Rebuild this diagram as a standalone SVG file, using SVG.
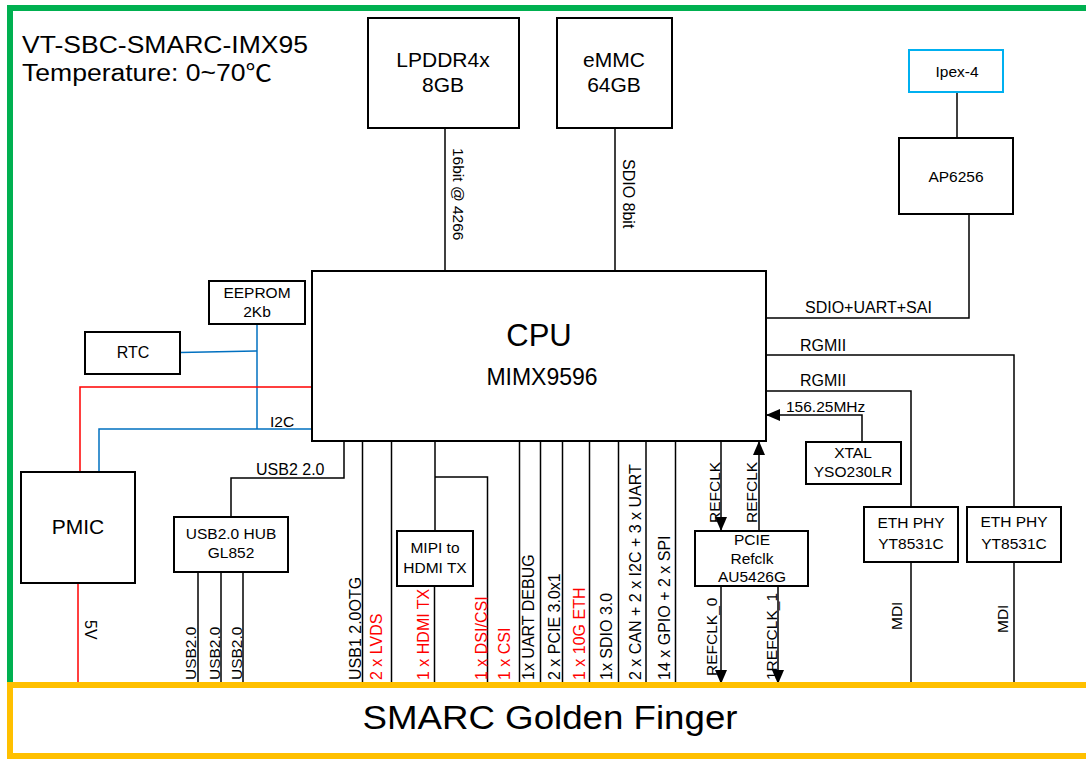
<svg xmlns="http://www.w3.org/2000/svg" width="1086" height="762" viewBox="0 0 1086 762">
<defs>
<style>
.box{fill:#fff;stroke:#000;stroke-width:2}
.t{font-family:"Liberation Sans",Arial,"Noto Sans CJK SC",sans-serif;fill:#000;text-anchor:middle;font-size:15.5px}
.big{font-size:21px}
.w{stroke:#000;stroke-width:1.5;fill:none}
.b{stroke:#0070C0;stroke-width:1.5;fill:none}
.r{stroke:#FF0000;stroke-width:1.5;fill:none}
.l{font-family:"Liberation Sans",Arial,sans-serif;font-size:16px;fill:#000}
.red{fill:#FF0000}
</style>
<marker id="ah" viewBox="0 0 14 12" markerWidth="14" markerHeight="12" refX="14" refY="6" orient="auto" markerUnits="userSpaceOnUse"><path d="M0,0 L14,6 L0,12 z" fill="#000"/></marker>
</defs>
<rect x="0" y="0" width="1086" height="762" fill="#fff"/>
<g id="frame">
<rect x="10" y="8" width="1090" height="700" fill="none" stroke="#00B050" stroke-width="6"/>
</g>
<g id="title">
<text class="l" x="22" y="53" style="font-size:23px" textLength="286" lengthAdjust="spacingAndGlyphs">VT-SBC-SMARC-IMX95</text>
<text x="22" y="81" style="font-size:23px;font-family:'Liberation Sans',Arial,'Noto Sans CJK SC',sans-serif" textLength="250" lengthAdjust="spacingAndGlyphs">Temperature: 0~70℃</text>
</g>
<g id="connectors">
<path class="w" d="M445,128 V271"/>
<path class="w" d="M615,128 V271"/>
<path class="w" d="M957,92 V138"/>
<path class="w" d="M969,214 V318 H766"/>
<path class="w" d="M766,355 H1014 V507"/>
<path class="w" d="M766,391 H911 V507"/>
<path class="w" d="M862,442 V415 H766" marker-end="url(#ah)"/>
<path class="w" d="M721,441 V531" marker-end="url(#ah)"/>
<path class="w" d="M759,531 V441" marker-end="url(#ah)"/>
<path class="w" d="M721,586 V684" marker-end="url(#ah)"/>
<path class="w" d="M778,586 V684" marker-end="url(#ah)"/>
<path class="w" d="M911,562 V684"/>
<path class="w" d="M1014,562 V684"/>
<path class="w" d="M344,441 V478 H231 V517"/>
<path class="w" d="M198,572 V684"/>
<path class="w" d="M221,572 V684"/>
<path class="w" d="M243,572 V684"/>
<path class="w" d="M362.5,441 V684"/>
<path class="w" d="M391.5,441 V684"/>
<path class="w" d="M435,441 V531"/>
<path class="w" d="M435,477 H487.5 V684"/>
<path class="w" d="M434.5,586 V684"/>
<path class="w" d="M519.5,441 V684"/>
<path class="w" d="M540.5,441 V684"/>
<path class="w" d="M562.5,441 V684"/>
<path class="w" d="M589.5,441 V684"/>
<path class="w" d="M618.5,441 V684"/>
<path class="w" d="M646,441 V684"/>
<path class="w" d="M675.5,441 V684"/>
<path class="b" d="M257,324 V429"/>
<path class="b" d="M180,352.5 L257,351"/>
<path class="b" d="M312,429 H99 V472"/>
<path class="r" d="M312,387 H80 V472"/>
<path class="r" d="M78,583 V684"/>
<text class="l" transform="translate(453,148) rotate(90)" style="font-size:15.5px">16bit @ 4266</text>
<text class="l" transform="translate(623,159) rotate(90)">SDIO 8bit</text>
<text class="l" transform="translate(85,620) rotate(90)">5V</text>
<text class="l" x="805" y="313">SDIO+UART+SAI</text>
<text class="l" x="800" y="351">RGMII</text>
<text class="l" x="800" y="386">RGMII</text>
<text class="l" x="786" y="412" style="font-size:15.5px">156.25MHz</text>
<text class="l" x="256" y="475">USB2 2.0</text>
<text class="l" x="270" y="427" style="font-size:15.5px">I2C</text>
<text class="l" transform="translate(720,523) rotate(-90)" style="font-size:15.5px">REFCLK</text>
<text class="l" transform="translate(757,523) rotate(-90)" style="font-size:15.5px">REFCLK</text>
<text class="l" transform="translate(717,676) rotate(-90)" style="font-size:15.5px">REFCLK_0</text>
<text class="l" transform="translate(777,680) rotate(-90)" style="font-size:15.5px">1REFCLK_1</text>
<text class="l" transform="translate(902,630) rotate(-90)" style="font-size:15.5px">MDI</text>
<text class="l" transform="translate(1008,633) rotate(-90)" style="font-size:15.5px">MDI</text>
<text class="l" transform="translate(196,680) rotate(-90)" style="font-size:15.5px">USB2.0</text>
<text class="l" transform="translate(220,680) rotate(-90)" style="font-size:15.5px">USB2.0</text>
<text class="l" transform="translate(242,680) rotate(-90)" style="font-size:15.5px">USB2.0</text>
<text class="l" transform="translate(361,680) rotate(-90)">USB1 2.0OTG</text>
<text class="l red" transform="translate(382,680) rotate(-90)">2 x LVDS</text>
<text class="l red" transform="translate(429,680) rotate(-90)">1 x HDMI TX</text>
<text class="l red" transform="translate(486.5,680) rotate(-90)">1 x DSI/CSI</text>
<text class="l red" transform="translate(510,680) rotate(-90)">1 x CSI</text>
<text class="l" transform="translate(534,680) rotate(-90)">1x UART DEBUG</text>
<text class="l" transform="translate(560,680) rotate(-90)">2 x PCIE 3.0x1</text>
<text class="l red" transform="translate(585,680) rotate(-90)">1 x 10G ETH</text>
<text class="l" transform="translate(612,680) rotate(-90)">1x SDIO 3.0</text>
<text class="l" transform="translate(641,680) rotate(-90)">2 x CAN + 2 x I2C + 3 x UART</text>
<text class="l" transform="translate(670,680) rotate(-90)">14 x GPIO + 2 x SPI</text>
</g>
<g id="lpddr"><rect class="box" x="368" y="18" width="151" height="110"/><text class="t big" x="443" y="67">LPDDR4x</text><text class="t big" x="443" y="92">8GB</text></g>
<g id="emmc"><rect class="box" x="557" y="18" width="115" height="110"/><text class="t big" x="614" y="67">eMMC</text><text class="t big" x="614" y="92">64GB</text></g>
<g id="ipex"><rect x="909" y="50" width="94" height="42" fill="#fff" stroke="#00B0F0" stroke-width="2"/><text class="t" x="957" y="77">Ipex-4</text></g>
<g id="ap6256"><rect class="box" x="899" y="138" width="114" height="76"/><text class="t" x="956" y="182">AP6256</text></g>
<g id="cpu"><rect class="box" x="312" y="271" width="454" height="170"/><text class="t" x="539" y="346" style="font-size:31px">CPU</text><text class="t" x="542" y="385" style="font-size:23px">MIMX9596</text></g>
<g id="eeprom"><rect class="box" x="209" y="281" width="96" height="43"/><text class="t" x="257" y="298">EEPROM</text><text class="t" x="257" y="317">2Kb</text></g>
<g id="rtc"><rect class="box" x="85" y="332" width="95" height="42"/><text class="t" x="133" y="358" style="font-size:16px">RTC</text></g>
<g id="pmic"><rect class="box" x="21" y="472" width="114" height="111"/><text class="t big" x="78" y="534">PMIC</text></g>
<g id="usbhub"><rect class="box" x="174" y="517" width="114" height="55"/><text class="t" x="231" y="539">USB2.0 HUB</text><text class="t" x="231" y="558">GL852</text></g>
<g id="mipi"><rect class="box" x="397" y="531" width="76" height="55"/><text class="t" x="435" y="553">MIPI to</text><text class="t" x="435" y="573">HDMI TX</text></g>
<g id="pcie"><rect class="box" x="695" y="531" width="113" height="55"/><text class="t" x="752" y="545">PCIE</text><text class="t" x="752" y="564">Refclk</text><text class="t" x="752" y="582">AU5426G</text></g>
<g id="xtal"><rect class="box" x="806" y="442" width="95" height="42"/><text class="t" x="853" y="458">XTAL</text><text class="t" x="853" y="477">YSO230LR</text></g>
<g id="ethphy1"><rect class="box" x="864" y="507" width="94" height="55"/><text class="t" x="911" y="528">ETH PHY</text><text class="t" x="911" y="549">YT8531C</text></g>
<g id="ethphy2"><rect class="box" x="967" y="507" width="94" height="55"/><text class="t" x="1014" y="527">ETH PHY</text><text class="t" x="1014" y="549">YT8531C</text></g>
<g id="golden"><rect x="10" y="685" width="1090" height="71" fill="#fff" stroke="#FFC000" stroke-width="6"/><text class="t" x="550" y="729" style="font-size:33px" textLength="375" lengthAdjust="spacingAndGlyphs">SMARC Golden Finger</text></g>
</svg>
